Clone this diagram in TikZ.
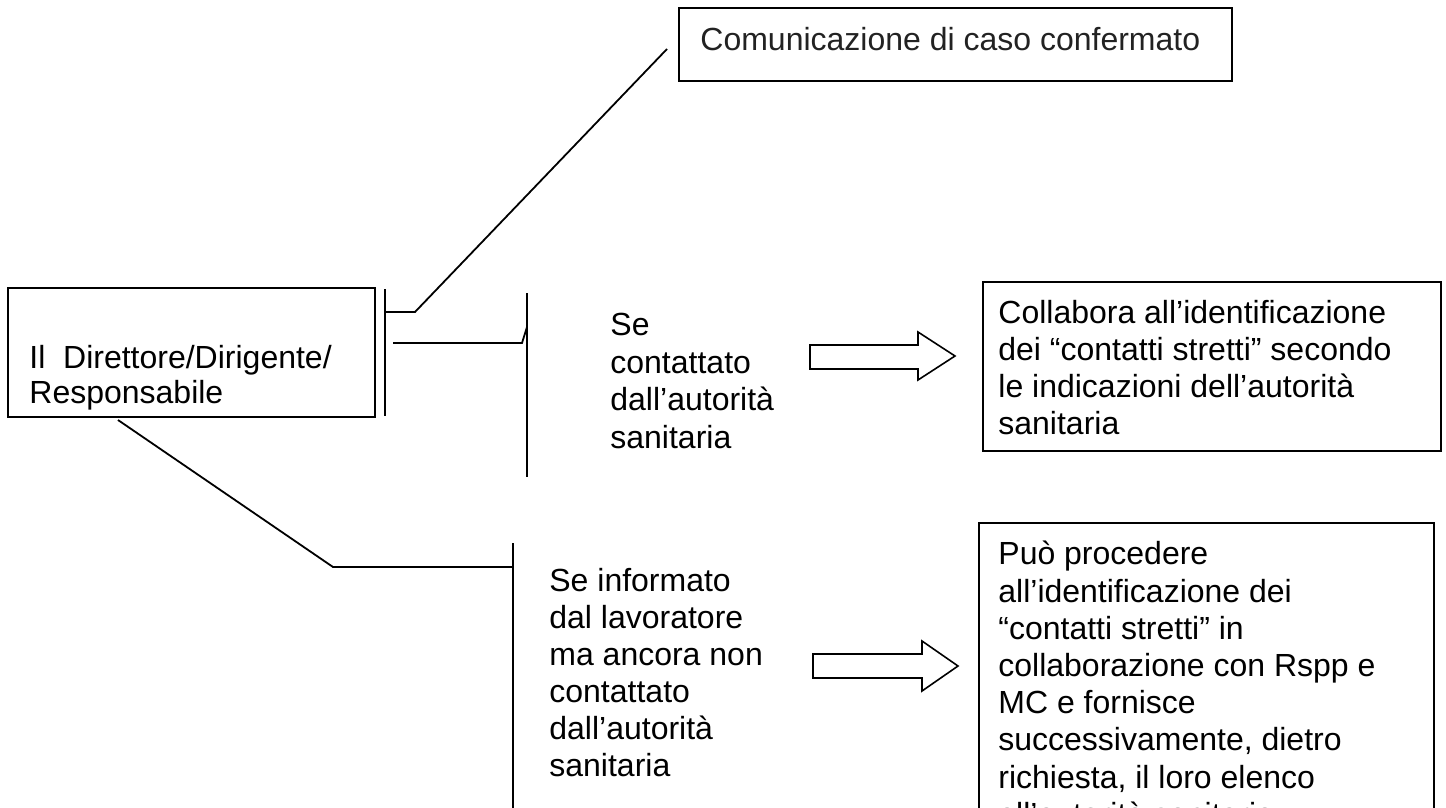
\documentclass[tikz,border=0pt]{standalone}
\usepackage{fontspec}
\setmainfont{Liberation Sans}
\usetikzlibrary{positioning}
\definecolor{inkgray}{RGB}{34, 34, 34}
\tikzset{
  box/.style={draw=black, line width=0.8pt, inner sep=0pt, outer sep=0pt},
  txt/.style={anchor=north west, inner sep=0pt, align=left, font=\fontsize{16pt}{18.5pt}\selectfont},
  bar/.style={line width=0.9pt},
  fatarrow/.style={draw=black, line width=0.8pt, line join=miter},
}

\begin{document}
\begin{tikzpicture}[x=0.5pt, y=-0.5pt]
  \clip (0,0) rectangle (1446,808);
  % boxes
  \node[box, minimum width=276.5pt, minimum height=36.5pt]  (conf)  at ( 955.5, 44.5) {};
  \node[box, minimum width=183.5pt, minimum height=64.5pt]  (dir)   at ( 191.5,352.5) {};
  \node[box, minimum width=229.0pt, minimum height=84.5pt]  (colla) at (1212.0,366.5) {};
  \node[box, minimum width=227.5pt, minimum height=188.5pt] (puo)   at (1206.5,711.5) {};
  \node[txt, text=inkgray, below right=9.5pt and 10.5pt of conf.north west] (conftext) {Comunicazione di caso confermato};
  \node[txt, font=\fontsize{16pt}{17.5pt}\selectfont, below right=28.5pt and 10.5pt of dir.north west] (dirtext) {Il\ \ Direttore/Dirigente/\\Responsabile};
  \node[txt, below right=9pt and 7.5pt of colla.north west] (collatext)
       {Collabora all’identificazione\\dei “contatti stretti” secondo\\le indicazioni dell’autorità\\sanitaria};
  \node[txt, font=\fontsize{16pt}{18.6pt}\selectfont, below right=9pt and 9.5pt of puo.north west] (puotext)
       {Può procedere\\all’identificazione dei\\“contatti stretti” in\\collaborazione con Rspp e\\MC e fornisce\\successivamente, dietro\\richiesta, il loro elenco\\all’autorità sanitaria};
  \node[txt, font=\fontsize{16pt}{18.75pt}\selectfont] (se1) at (610,313) {Se\\contattato\\dall’autorità\\sanitaria};
  \node[txt] (se2) at (549,568) {Se informato\\dal lavoratore\\ma ancora non\\contattato\\dall’autorità\\sanitaria};
  % brackets
  \coordinate (topA) at (385,289);  \coordinate (botA) at (385,416);
  \coordinate (topB) at (527,293);  \coordinate (botB) at (527,477);
  \coordinate (topC) at (513,543);  \coordinate (botC) at (513,820);
  \coordinate (footA) at (385,312); \coordinate (kneeA) at (415,312); \coordinate (tipA) at (667,49);
  \coordinate (footB) at (393,343); \coordinate (kneeB) at (522,343); \coordinate (tipB) at (527,327);
  \coordinate (footC) at (118,420); \coordinate (kneeC) at (333,567); \coordinate (tipC) at (513,567);
  \draw[bar] (topA) -- (botA);
  \draw[bar] (topB) -- (botB);
  \draw[bar] (topC) -- (botC);
  \draw[bar] (footA) -- (kneeA) -- (tipA);
  \draw[bar] (footB) -- (kneeB) -- (tipB);
  \draw[bar] (footC) -- (kneeC) -- (tipC);
  % block arrows
  \draw[fatarrow] (810,345) -- (918,345) -- (918,332) -- (955,356) -- (918,380) -- (918,369) -- (810,369) -- cycle;
  \draw[fatarrow] (813,654) -- (922,654) -- (922,641) -- (958,666) -- (922,691) -- (922,678) -- (813,678) -- cycle;
\end{tikzpicture}
\end{document}
